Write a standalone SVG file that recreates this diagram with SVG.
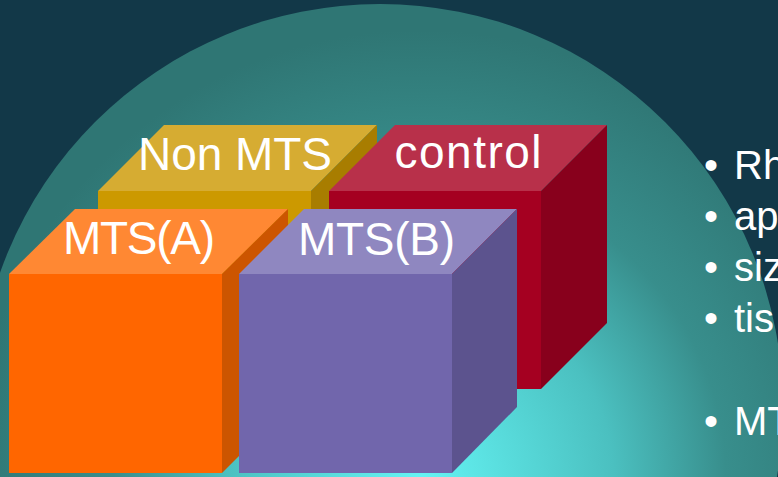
<svg xmlns="http://www.w3.org/2000/svg" width="778" height="477" viewBox="0 0 778 477">
<defs>
<radialGradient id="glow" gradientUnits="userSpaceOnUse" cx="420" cy="480" r="450">
<stop offset="0" stop-color="#64f4f4"/>
<stop offset="0.43" stop-color="#4bc0c0"/>
<stop offset="0.68" stop-color="#388e8c"/>
<stop offset="1" stop-color="#2f7674"/>
</radialGradient>
</defs>
<style>
.lbl{font-family:"Liberation Sans",Arial,sans-serif;font-size:46px;fill:#ffffff;text-anchor:middle}
.bul{font-family:"Liberation Sans",Arial,sans-serif;font-size:40px;fill:#ffffff}
</style>
<rect x="0" y="0" width="778" height="477" fill="#123848"/>
<circle cx="380" cy="407" r="403" fill="url(#glow)"/>

<g id="nonmts">
<polygon points="98,191 164,125 377,125 311,191" fill="#d6ac32"/>
<polygon points="311,191 377,125 377,323 311,389" fill="#a87d00"/>
<rect x="98" y="191" width="213" height="198" fill="#cc9900"/>
<text class="lbl" x="235" y="170" textLength="194" lengthAdjust="spacing">Non MTS</text>
</g>

<g id="control">
<polygon points="329,191 395,125 607,125 541,191" fill="#b8304a"/>
<polygon points="541,191 607,125 607,323 541,389" fill="#88001c"/>
<rect x="329" y="191" width="212" height="198" fill="#a50021"/>
<text class="lbl" x="468" y="168" textLength="147" lengthAdjust="spacing">control</text>
</g>

<g id="mtsa">
<polygon points="9,274 75,209 288,209 222,274" fill="#ff8833"/>
<polygon points="222,274 288,209 288,407 222,473" fill="#cc5500"/>
<rect x="9" y="274" width="213" height="199" fill="#ff6600"/>
<text class="lbl" x="139" y="254" textLength="152" lengthAdjust="spacing">MTS(A)</text>
</g>

<g id="mtsb">
<polygon points="239,274 304,209 517,209 452,274" fill="#8f87c0"/>
<polygon points="452,274 517,209 517,407 452,473" fill="#5c538e"/>
<rect x="239" y="274" width="213" height="199" fill="#7166ac"/>
<text class="lbl" x="376.5" y="255" textLength="157" lengthAdjust="spacing">MTS(B)</text>
</g>

<g id="connectors"></g>

<g id="bullets">
<text class="bul" x="704" y="179">•</text><text class="bul" x="734" y="179">Rh</text>
<text class="bul" x="704" y="230">•</text><text class="bul" x="734" y="230">ap</text>
<text class="bul" x="704" y="281">•</text><text class="bul" x="734" y="281">siz</text>
<text class="bul" x="704" y="332">•</text><text class="bul" x="734" y="332">tis</text>
<text class="bul" x="704" y="435">•</text><text class="bul" x="734" y="435">MT</text>
</g>
</svg>
